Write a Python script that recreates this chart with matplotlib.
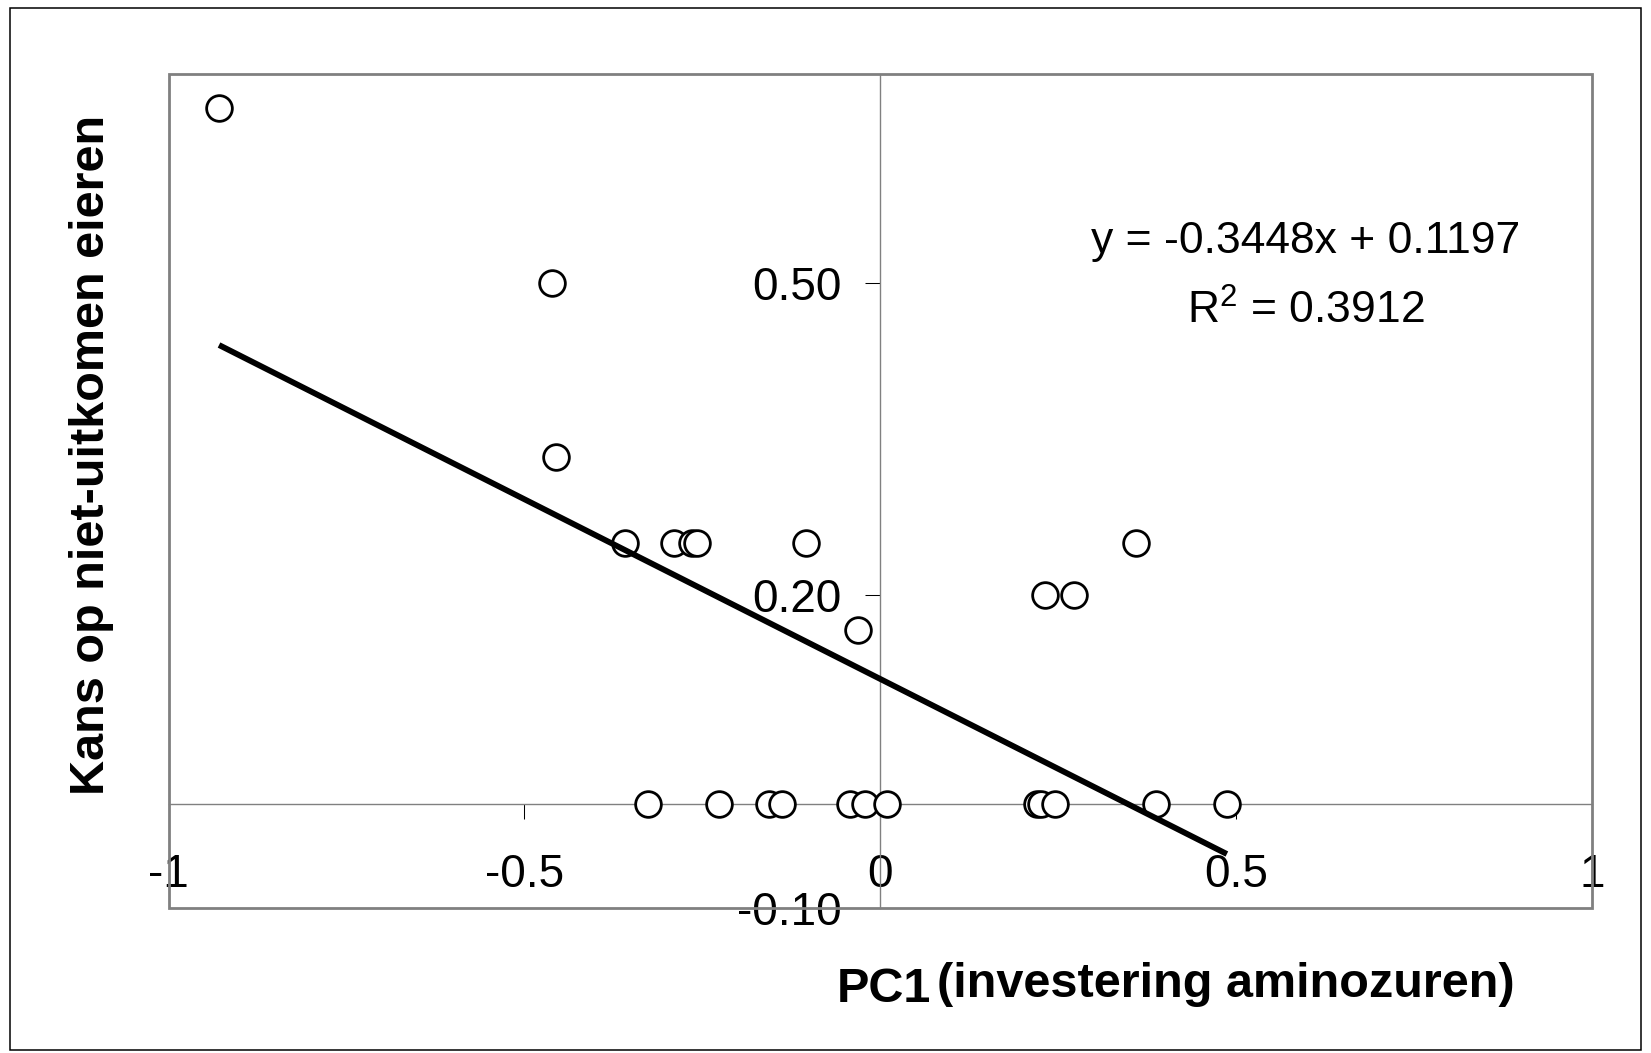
import matplotlib
matplotlib.use("Agg")
import matplotlib.pyplot as plt
import numpy as np
from matplotlib.patches import Rectangle
from matplotlib.ticker import FixedLocator, FixedFormatter

plt.rcParams['font.family'] = ['Liberation Sans', 'DejaVu Sans']
plt.rcParams['mathtext.fontset'] = 'custom'
plt.rcParams['mathtext.rm'] = 'Liberation Sans'

# PC1 score per female vs. fraction of unhatched eggs
pc1 = [-0.929, -0.461, -0.455, -0.359, -0.290, -0.265, -0.258, -0.104,
       -0.031, 0.232, 0.272, 0.359,
       -0.327, -0.226, -0.157, -0.138, -0.042, -0.021, 0.009,
       0.220, 0.226, 0.245, 0.387, 0.487]
unhatched = [0.667, 0.5, 0.333, 0.25, 0.25, 0.25, 0.25, 0.25,
             0.167, 0.2, 0.2, 0.25,
             0, 0, 0, 0, 0, 0, 0,
             0, 0, 0, 0, 0]

# Excel linear trendline
slope = -0.3448
intercept = 0.1197
r2 = 0.3912

x_ticks = [-1, -0.5, 0, 0.5, 1]
x_tick_labels = ['-1', '-0.5', '0', '0.5', '1']
y_ticks = [-0.1, 0.2, 0.5]
y_tick_labels = ['-0.10', '0.20', '0.50']

W, H = 1651, 1053
fig = plt.figure(figsize=(W / 100, H / 100), dpi=100)
ax = fig.add_axes([168.5 / W, 1 - 908 / H, (1592 - 168.5) / W, (908 - 74) / H])

ax.set_xlim(-1, 1)
ax.set_ylim(-0.1, 0.7)

gray = '#808080'
for side in ['top', 'right']:
    ax.spines[side].set_visible(False)
ax.spines['left'].set_position(('data', 0))
ax.spines['bottom'].set_position(('data', 0))
for side in ['left', 'bottom']:
    ax.spines[side].set_color(gray)
    ax.spines[side].set_linewidth(1.0)
ax.add_patch(Rectangle((0, 0), 1, 1, transform=ax.transAxes, fill=False,
                       edgecolor=gray, linewidth=2.0, clip_on=False, zorder=2.6))

ax.xaxis.set_major_locator(FixedLocator(x_ticks))
ax.xaxis.set_major_formatter(FixedFormatter(x_tick_labels))
ax.yaxis.set_major_locator(FixedLocator(y_ticks))
ax.yaxis.set_major_formatter(FixedFormatter(y_tick_labels))
ax.tick_params(axis='x', direction='out', length=10.8, width=0.75, color='black',
               labelsize=33, pad=25)
ax.tick_params(axis='y', direction='out', length=10.8, width=0.75, color='black',
               labelsize=33, pad=17)

ax.plot(pc1, unhatched, linestyle='none', marker='o', markersize=18.5,
        markerfacecolor='white', markeredgecolor='black', markeredgewidth=2.0,
        zorder=3, clip_on=False)

xs = np.array([min(pc1), max(pc1)])
ax.plot(xs, slope * xs + intercept, color='black', linewidth=4.2, zorder=4,
        solid_capstyle='butt')

ax.text(1306 / W, 1 - 242 / H, f'y = {slope}x + {intercept}', transform=fig.transFigure,
        ha='center', va='center', fontsize=32)
ax.text(1306 / W, 1 - 311 / H, f'R$^2$ = {r2}', transform=fig.transFigure,
        ha='center', va='center', fontsize=32)

fig.text(92 / W, 1 - 455 / H, 'Kans op niet-uitkomen eieren', rotation=90,
         ha='center', va='center', fontsize=35, fontweight='bold')
fig.text(837 / W, 1 - 1002 / H, 'PC1', ha='left', va='baseline',
         fontsize=35, fontweight='bold')
fig.text(937 / W, 1 - 997 / H, '(investering aminozuren)', ha='left', va='baseline',
         fontsize=35, fontweight='bold')

fig.add_artist(Rectangle((10 / W, 3 / H), (1641 - 10) / W, (1050 - 8) / H,
                         transform=fig.transFigure, fill=False,
                         edgecolor='black', linewidth=1.1))

fig.savefig('out.png', dpi=100)
